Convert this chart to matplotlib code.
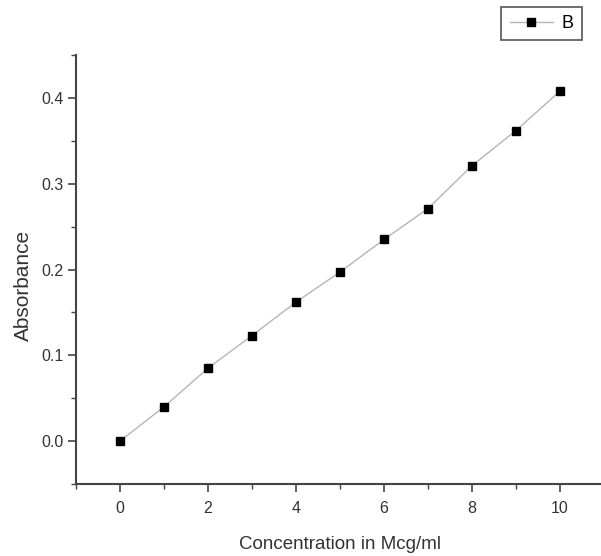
import matplotlib
matplotlib.use("Agg")
import matplotlib.pyplot as plt
from matplotlib.ticker import MultipleLocator, FormatStrFormatter

plt.rcParams["font.family"] = ["Liberation Sans", "DejaVu Sans"]

# concentration (mcg/ml) and measured absorbance
conc = [0, 1, 2, 3, 4, 5, 6, 7, 8, 9, 10]
absorbance = [0.000, 0.040, 0.085, 0.123, 0.162, 0.197, 0.235, 0.271, 0.321, 0.362, 0.408]
series_name = "B"

fig = plt.figure(figsize=(6.01, 5.56), dpi=100)
ax = fig.add_axes([76 / 601, 1 - 484 / 556, (604 - 76) / 601, (484 - 55) / 556])

ax.plot(conc, absorbance, color="#b5b5b5", lw=1.0, marker="s", ms=6,
        mfc="black", mec="black", label=series_name)

ax.set_xlim(-1, 11)
ax.set_ylim(-0.05, 0.45)
ax.xaxis.set_major_locator(MultipleLocator(2))
ax.xaxis.set_minor_locator(MultipleLocator(1))
ax.yaxis.set_major_locator(MultipleLocator(0.1))
ax.yaxis.set_minor_locator(MultipleLocator(0.05))
ax.yaxis.set_major_formatter(FormatStrFormatter("%.1f"))

for s in ("top", "right"):
    ax.spines[s].set_visible(False)
for s in ("left", "bottom"):
    ax.spines[s].set_linewidth(1.5)
    ax.spines[s].set_color("#444444")

ax.tick_params(which="major", direction="out", length=6, width=1.2, pad=3,
               colors="#444444", labelsize=11.5, labelcolor="#333333")
ax.tick_params(axis="x", which="major", pad=6.5)
ax.tick_params(which="minor", direction="out", length=3.5, width=1.0, colors="#444444")

ax.set_xlabel("Concentration in Mcg/ml", fontsize=13.5, color="#333333", labelpad=14)
ax.set_ylabel("Absorbance", fontsize=15, color="#333333", labelpad=6)
ax.yaxis.label.set_y(0.464)

leg = ax.legend(loc="upper right", bbox_to_anchor=(582 / 601, 1 - 7 / 556),
                bbox_transform=fig.transFigure, fancybox=False, framealpha=1,
                edgecolor="#555555", fontsize=13, handlelength=2.4,
                borderpad=0.45, borderaxespad=0, handletextpad=0.5)
leg.get_frame().set_linewidth(1.2)

fig.savefig("out.png", dpi=100)
